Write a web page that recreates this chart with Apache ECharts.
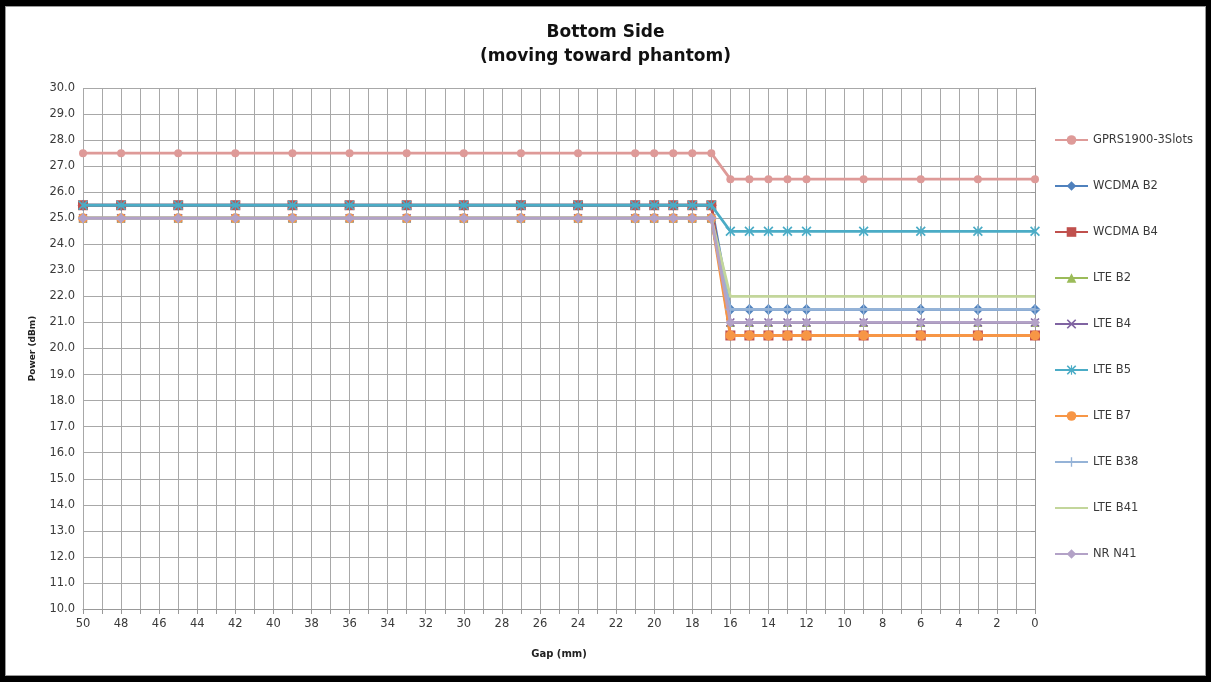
<!DOCTYPE html>
<html>
<head>
<meta charset="utf-8">
<title>Bottom Side (moving toward phantom)</title>
<script src="https://cdn.jsdelivr.net/npm/echarts@6/dist/echarts.min.js"></script>
<style>
  html, body { margin: 0; padding: 0; background: #000; }
  #frame { position: absolute; left: 5px; top: 6px; width: 1199px; height: 668px; background: #fff; border: 1px solid #9a9a9a; }
  #chart { position: absolute; left: 0; top: 0; width: 1211px; height: 682px; }
</style>
</head>
<body>
<div id="frame"></div>
<div id="chart"></div>
<script>
// Gap distance (mm) of each measurement point
const gaps = [50, 48, 45, 42, 39, 36, 33, 30, 27, 24, 21, 20, 19, 18, 17, 16, 15, 14, 13, 12, 9, 6, 3, 0];

// Conducted power (dBm) per band at each gap
const gprs1900 = [27.5, 27.5, 27.5, 27.5, 27.5, 27.5, 27.5, 27.5, 27.5, 27.5, 27.5, 27.5, 27.5, 27.5, 27.5, 26.5, 26.5, 26.5, 26.5, 26.5, 26.5, 26.5, 26.5, 26.5];
const wcdmaB2  = [25.5, 25.5, 25.5, 25.5, 25.5, 25.5, 25.5, 25.5, 25.5, 25.5, 25.5, 25.5, 25.5, 25.5, 25.5, 21.5, 21.5, 21.5, 21.5, 21.5, 21.5, 21.5, 21.5, 21.5];
const wcdmaB4  = [25.5, 25.5, 25.5, 25.5, 25.5, 25.5, 25.5, 25.5, 25.5, 25.5, 25.5, 25.5, 25.5, 25.5, 25.5, 20.5, 20.5, 20.5, 20.5, 20.5, 20.5, 20.5, 20.5, 20.5];
const lteB2    = [25.0, 25.0, 25.0, 25.0, 25.0, 25.0, 25.0, 25.0, 25.0, 25.0, 25.0, 25.0, 25.0, 25.0, 25.0, 21.0, 21.0, 21.0, 21.0, 21.0, 21.0, 21.0, 21.0, 21.0];
const lteB4    = [25.0, 25.0, 25.0, 25.0, 25.0, 25.0, 25.0, 25.0, 25.0, 25.0, 25.0, 25.0, 25.0, 25.0, 25.0, 21.0, 21.0, 21.0, 21.0, 21.0, 21.0, 21.0, 21.0, 21.0];
const lteB5    = [25.5, 25.5, 25.5, 25.5, 25.5, 25.5, 25.5, 25.5, 25.5, 25.5, 25.5, 25.5, 25.5, 25.5, 25.5, 24.5, 24.5, 24.5, 24.5, 24.5, 24.5, 24.5, 24.5, 24.5];
const lteB7    = [25.0, 25.0, 25.0, 25.0, 25.0, 25.0, 25.0, 25.0, 25.0, 25.0, 25.0, 25.0, 25.0, 25.0, 25.0, 20.5, 20.5, 20.5, 20.5, 20.5, 20.5, 20.5, 20.5, 20.5];
const lteB38   = [25.0, 25.0, 25.0, 25.0, 25.0, 25.0, 25.0, 25.0, 25.0, 25.0, 25.0, 25.0, 25.0, 25.0, 25.0, 21.5, 21.5, 21.5, 21.5, 21.5, 21.5, 21.5, 21.5, 21.5];
const lteB41   = [25.0, 25.0, 25.0, 25.0, 25.0, 25.0, 25.0, 25.0, 25.0, 25.0, 25.0, 25.0, 25.0, 25.0, 25.0, 22.0, 22.0, 22.0, 22.0, 22.0, 22.0, 22.0, 22.0, 22.0];
const nrN41    = [25.0, 25.0, 25.0, 25.0, 25.0, 25.0, 25.0, 25.0, 25.0, 25.0, 25.0, 25.0, 25.0, 25.0, 25.0, 21.0, 21.0, 21.0, 21.0, 21.0, 21.0, 21.0, 21.0, 21.0];

const seriesNames = ['GPRS1900-3Slots', 'WCDMA B2', 'WCDMA B4', 'LTE B2', 'LTE B4', 'LTE B5', 'LTE B7', 'LTE B38', 'LTE B41', 'NR N41'];
const seriesValues = [gprs1900, wcdmaB2, wcdmaB4, lteB2, lteB4, lteB5, lteB7, lteB38, lteB41, nrN41];

// Marker shapes
const xMark = 'path://M0,1.2L1.2,0L5,3.8L8.8,0L10,1.2L6.2,5L10,8.8L8.8,10L5,6.2L1.2,10L0,8.8L3.8,5Z';
const starMark = 'path://M0,1.2L1.2,0L4.4,3.2V0H5.6V3.2L8.8,0L10,1.2L6.2,5L10,8.8L8.8,10L5.6,6.8V10H4.4V6.8L1.2,10L0,8.8L3.8,5Z';
const plusMark = 'path://M4.3,0H5.7V4.3H10V5.7H5.7V10H4.3V5.7H0V4.3H4.3Z';

const styles = [
  { color: '#DE9A98', symbol: 'circle',   size: 8 },
  { color: '#4F81BD', symbol: 'diamond',  size: 11 },
  { color: '#C0504D', symbol: 'rect',     size: 10 },
  { color: '#9BBB59', symbol: 'triangle', size: 9 },
  { color: '#8064A2', symbol: xMark,      size: 9 },
  { color: '#4BACC6', symbol: starMark,   size: 10 },
  { color: '#F79646', symbol: 'circle',   size: 10 },
  { color: '#95B3D7', symbol: plusMark,   size: 10 },
  { color: '#C3D69B', symbol: 'none',     size: 0 },
  { color: '#B3A2C7', symbol: 'diamond',  size: 10 }
];

const labelFont = { fontFamily: '"DejaVu Sans", Verdana, sans-serif', fontSize: 11.5, color: '#3a3a3a' };

const chart = echarts.init(document.getElementById('chart'), null, { renderer: 'canvas' });

chart.setOption({
  backgroundColor: 'transparent',
  animation: false,
  title: {
    text: 'Bottom Side\n(moving toward phantom)',
    left: 'center',
    top: 16,
    textStyle: { fontFamily: '"DejaVu Sans", sans-serif', fontSize: 17, fontWeight: 'bold', color: '#111', lineHeight: 24 }
  },
  legend: {
    orient: 'vertical',
    left: 1049,
    top: 129,
    itemWidth: 33,
    itemHeight: 12,
    itemGap: 34,
    textStyle: labelFont,
    data: seriesNames.map(n => n === 'LTE B41'
      ? { name: n, itemStyle: { opacity: 0 } }
      : { name: n })
  },
  grid: { left: 83, right: 176, top: 88, bottom: 73, containLabel: false },
  xAxis: {
    type: 'value',
    min: 0,
    max: 50,
    interval: 2,
    inverse: true,
    name: 'Gap (mm)',
    nameLocation: 'middle',
    nameGap: 40,
    nameTextStyle: { fontFamily: '"DejaVu Sans", sans-serif', fontSize: 10, fontWeight: 'bold', color: '#222' },
    axisLine: { show: true, lineStyle: { color: '#999', width: 1 } },
    axisTick: { show: true, length: 5, lineStyle: { color: '#999' } },
    minorTick: { show: true, splitNumber: 2, length: 5, lineStyle: { color: '#999' } },
    splitLine: { show: true, lineStyle: { color: '#a8a8a8', width: 1 } },
    minorSplitLine: { show: true, lineStyle: { color: '#a8a8a8', width: 1 } },
    axisLabel: Object.assign({ margin: 9 }, labelFont)
  },
  yAxis: {
    type: 'value',
    min: 10,
    max: 30,
    interval: 1,
    name: 'Power (dBm)',
    nameLocation: 'middle',
    nameGap: 46,
    nameTextStyle: { fontFamily: '"DejaVu Sans", sans-serif', fontSize: 9, fontWeight: 'bold', color: '#222' },
    axisLine: { show: true, lineStyle: { color: '#999', width: 1 } },
    axisTick: { show: true, length: 4, lineStyle: { color: '#999' } },
    splitLine: { show: true, lineStyle: { color: '#a8a8a8', width: 1 } },
    axisLabel: Object.assign({ margin: 8, formatter: v => v.toFixed(1) }, labelFont)
  },
  series: seriesNames.map((name, i) => ({
    name: name,
    type: 'line',
    data: gaps.map((g, k) => [g, seriesValues[i][k]]),
    symbol: styles[i].symbol,
    symbolSize: styles[i].size,
    showSymbol: styles[i].symbol !== 'none',
    lineStyle: { color: styles[i].color, width: 2.8 },
    itemStyle: { color: styles[i].color },
    z: 2 + i
  }))
});
</script>
</body>
</html>
